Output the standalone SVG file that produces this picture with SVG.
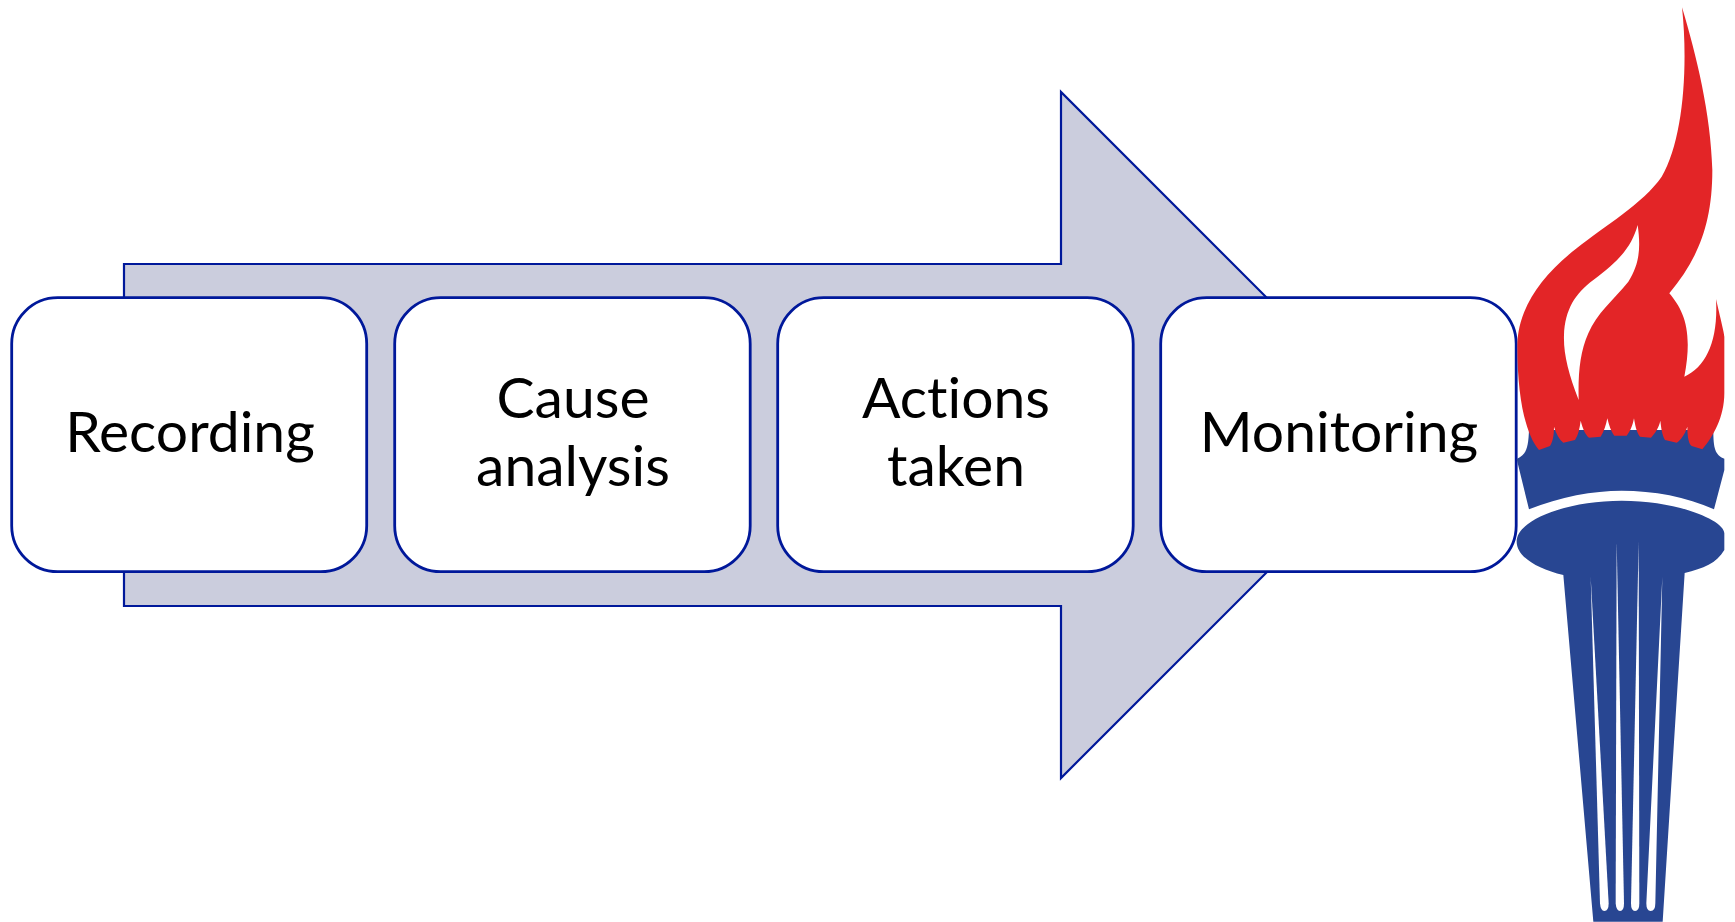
<svg xmlns="http://www.w3.org/2000/svg" width="1735" height="922" viewBox="0 0 1735 922">
<style>
.box{fill:#fff;stroke:#00189a;stroke-width:2.8}
.lbl{font-family:Lato,"Open Sans",sans-serif;font-size:57px;fill:#000;text-anchor:middle;font-variant-ligatures:none}
.red{fill:#e32527}.blue{fill:#284692}.slit{fill:#fff}
</style>
<rect width="1735" height="922" fill="#fff"/>
<g id="connectors">
<path id="arrow" d="M124 264H1061V92L1404 435L1061 778V606H124Z" fill="#cbcddd" stroke="#00189a" stroke-width="2.2"/>
</g>
<g id="node-recording"><rect class="box" x="11.7" y="297.7" width="355" height="274" rx="46"/><text class="lbl" x="190" y="452">Recording</text></g>
<g id="node-cause"><rect class="box" x="394.7" y="297.7" width="355.5" height="274" rx="46"/><text class="lbl" x="573" y="418">Cause</text><text class="lbl" x="573" y="486">analysis</text></g>
<g id="node-actions"><rect class="box" x="777.7" y="297.7" width="355.5" height="274" rx="46"/><text class="lbl" x="956" y="418">Actions</text><text class="lbl" x="956" y="486">taken</text></g>
<g id="node-monitoring"><rect class="box" x="1160.7" y="297.7" width="355.5" height="274" rx="46"/><text class="lbl" x="1339" y="452">Monitoring</text></g>
<g id="torch" transform="translate(1480 0) scale(.33333)">
<path class="blue" d="M147 1290C145 1340 140 1365 110 1377L147 1528C240 1490 340 1472 425 1472C520 1472 620 1490 702 1528L733 1410V1376C705 1365 700 1345 700 1290Z"/>
<path class="blue" d="M250 1725C170 1705 110 1670 110 1625C110 1560 260 1502 425 1502C590 1502 733 1560 733 1600V1650C710 1690 670 1705 614 1719L548 2765H340Z"/>
<path class="slit" d="M332 1730L360 2710Q362 2733 373 2733Q386 2733 386 2710Z"/>
<path class="slit" d="M410 1625L407 2710Q409 2733 420 2733Q432 2733 432 2710Z"/>
<path class="slit" d="M476 1625L453 2710Q453 2733 465 2733Q478 2733 478 2710Z"/>
<path class="slit" d="M547 1730L499 2710Q499 2733 512 2733Q526 2733 526 2710Z"/>
<path class="red" fill-rule="evenodd" d="M606 22C650 170 692 340 697 510C697 680 650 780 568 880C610 930 640 990 613 1130C680 1100 715 1020 708 897C720 950 733 1000 733 1010V1180C733 1250 700 1310 667 1348L635 1338C624 1330 622 1300 622 1280C614 1305 602 1320 590 1328L555 1320C546 1305 543 1280 541 1262C536 1285 525 1300 513 1313L480 1310C470 1298 465 1275 462 1255C457 1280 450 1295 440 1307H403C393 1295 387 1275 382 1255C378 1275 372 1295 362 1310L327 1313C315 1303 308 1285 302 1262C299 1285 295 1305 285 1320L250 1328C238 1318 228 1302 222 1280C222 1300 220 1322 210 1338L177 1350C140 1310 112 1200 112 1040C112 930 180 830 290 745C370 680 490 610 545 530C610 420 625 200 606 22ZM473 675C482 740 480 790 445 845C400 900 350 940 325 1000C300 1055 294 1120 296 1200C265 1120 250 1060 252 1005C255 930 285 880 340 840C420 780 455 740 473 675Z"/>
</g>
</svg>
